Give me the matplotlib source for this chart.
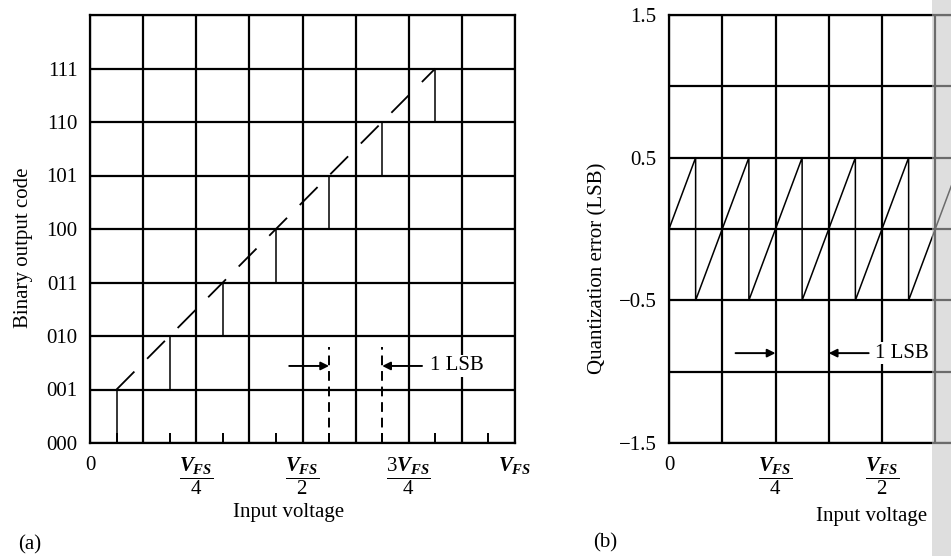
import matplotlib
matplotlib.use("Agg")
import matplotlib.pyplot as plt
from matplotlib.patches import Rectangle

plt.rcParams["font.family"] = ["Liberation Serif", "DejaVu Serif"]
plt.rcParams["mathtext.fontset"] = "custom"
plt.rcParams["mathtext.rm"] = "Liberation Serif"
plt.rcParams["mathtext.it"] = "Liberation Serif:italic:bold"
plt.rcParams["mathtext.bf"] = "Liberation Serif:bold"

# ---------------------------------------------------------------------------
# data (input in LSB units, 8 LSB = V_FS)
# ---------------------------------------------------------------------------
code_labels = ["000", "001", "010", "011", "100", "101", "110", "111"]
step_x = [0, 0.5, 1.5, 2.5, 3.5, 4.5, 5.5, 6.5, 8]
step_code = [0, 1, 2, 3, 4, 5, 6, 7]

ideal_x = [0.5, 6.5]
ideal_y = [1, 7]

lsb_marks_a = [4.5, 5.5]
lsb_marks_b = [2, 3]

err_x = [0, 0.5, 0.5, 1.5, 1.5, 2.5, 2.5, 3.5, 3.5, 4.5, 4.5, 5.5, 5.5, 6.5, 6.5, 8]
err_y = [0, 0.5, -0.5, 0.5, -0.5, 0.5, -0.5, 0.5, -0.5, 0.5, -0.5, 0.5, -0.5, 0.5, -0.5, 1.0]

x_tick_labels = ["0", r"$\dfrac{V_{FS}}{4}$", r"$\dfrac{V_{FS}}{2}$",
                 r"$\dfrac{3V_{FS}}{4}$", r"$V_{FS}$"]
err_tick_labels = ["\u22121.5", "", "\u22120.5", "", "0.5", "", "1.5"]

W, H = 951, 556
FS = 15
LW_GRID = 1.6
LW_CURVE = 1.1

fig = plt.figure(figsize=(W / 100, H / 100), dpi=100)
fig.patch.set_facecolor("white")


def px_axes(x0, y0, x1, y1):
    return fig.add_axes([x0 / W, 1 - y1 / H, (x1 - x0) / W, (y1 - y0) / H])


def grid_style(ax):
    ax.grid(True, color="black", lw=LW_GRID)
    ax.set_axisbelow(True)
    for s in ax.spines.values():
        s.set_linewidth(LW_GRID)
    ax.tick_params(axis="both", which="major", length=0, pad=9, labelsize=FS)


def lsb_arrows(ax, x_left, x_right, y, tx):
    ax.annotate("", xy=(x_left, y), xytext=(x_left - 0.75, y),
                arrowprops=dict(arrowstyle="-|>", color="black", lw=1.4,
                                mutation_scale=12, shrinkA=0, shrinkB=0))
    ax.annotate("", xy=(x_right, y), xytext=(x_right + 0.75, y),
                arrowprops=dict(arrowstyle="-|>", color="black", lw=1.4,
                                mutation_scale=12, shrinkA=0, shrinkB=0))
    ax.text(tx, y, "1 LSB", fontsize=FS, ha="left", va="center", zorder=6,
            bbox=dict(facecolor="white", edgecolor="none", pad=1.0))


# ---------------------------------------------------------------------------
# (a) transfer characteristic
# ---------------------------------------------------------------------------
axa = px_axes(90, 15, 515, 443)
axa.set_xlim(0, 8)
axa.set_ylim(0, 8)
axa.set_xticks(range(9))
axa.set_xticklabels([x_tick_labels[i // 2] if i % 2 == 0 else "" for i in range(9)])
axa.set_yticks(range(9))
axa.set_yticklabels(code_labels + [""])
grid_style(axa)
axa.set_xticks([i + 0.5 for i in range(8)], minor=True)
axa.tick_params(axis="x", which="minor", direction="in", length=7, width=1.4)

axa.step(step_x, step_code + [step_code[-1]], where="post", color="black",
         lw=LW_CURVE, zorder=4)
axa.plot(ideal_x, ideal_y, color="black", lw=1.3, dashes=(14, 10), zorder=4)
for xm in lsb_marks_a:
    axa.plot([xm, xm], [0, 1.8], color="black", lw=1.4, dashes=(5, 3), zorder=4)
lsb_arrows(axa, lsb_marks_a[0], lsb_marks_a[1], 1.44, 6.4)

fig.text(24 / W, 1 - 248 / H, "Binary output code", rotation=90,
         ha="center", va="center", fontsize=FS)
fig.text(289 / W, 1 - 513 / H, "Input voltage", ha="center", va="center",
         fontsize=FS)
fig.text(30 / W, 1 - 545 / H, "(a)", ha="center", va="center", fontsize=FS)

# ---------------------------------------------------------------------------
# (b) quantization error (right part cut off by the page edge)
# ---------------------------------------------------------------------------
axb = px_axes(669, 15, 669 + 426, 443)
axb.set_xlim(0, 8)
axb.set_ylim(-1.5, 1.5)
axb.set_xticks(range(9))
axb.set_xticklabels([x_tick_labels[i // 2] if i % 2 == 0 and i <= 4 else ""
                     for i in range(9)])
axb.set_yticks([-1.5, -1.0, -0.5, 0, 0.5, 1.0, 1.5])
axb.set_yticklabels(err_tick_labels)
grid_style(axb)

axb.plot(err_x, err_y, color="black", lw=LW_CURVE, zorder=4)
lsb_arrows(axb, lsb_marks_b[0], lsb_marks_b[1], -0.87, 3.86)

fig.text(598 / W, 1 - 268 / H, "Quantization error (LSB)", rotation=90,
         ha="center", va="center", fontsize=FS)
fig.text(872 / W, 1 - 516 / H, "Input voltage", ha="center", va="center",
         fontsize=FS)
fig.text(605 / W, 1 - 543 / H, "(b)", ha="center", va="center", fontsize=FS)

# page shadow at the right edge of the scan
fig.patches.append(Rectangle((932 / W, 0), 1 - 932 / W, 1, transform=fig.transFigure,
                             facecolor="#c4c4c4", edgecolor="none", alpha=0.55,
                             zorder=20))

fig.savefig("out.png", dpi=100, facecolor="white")
